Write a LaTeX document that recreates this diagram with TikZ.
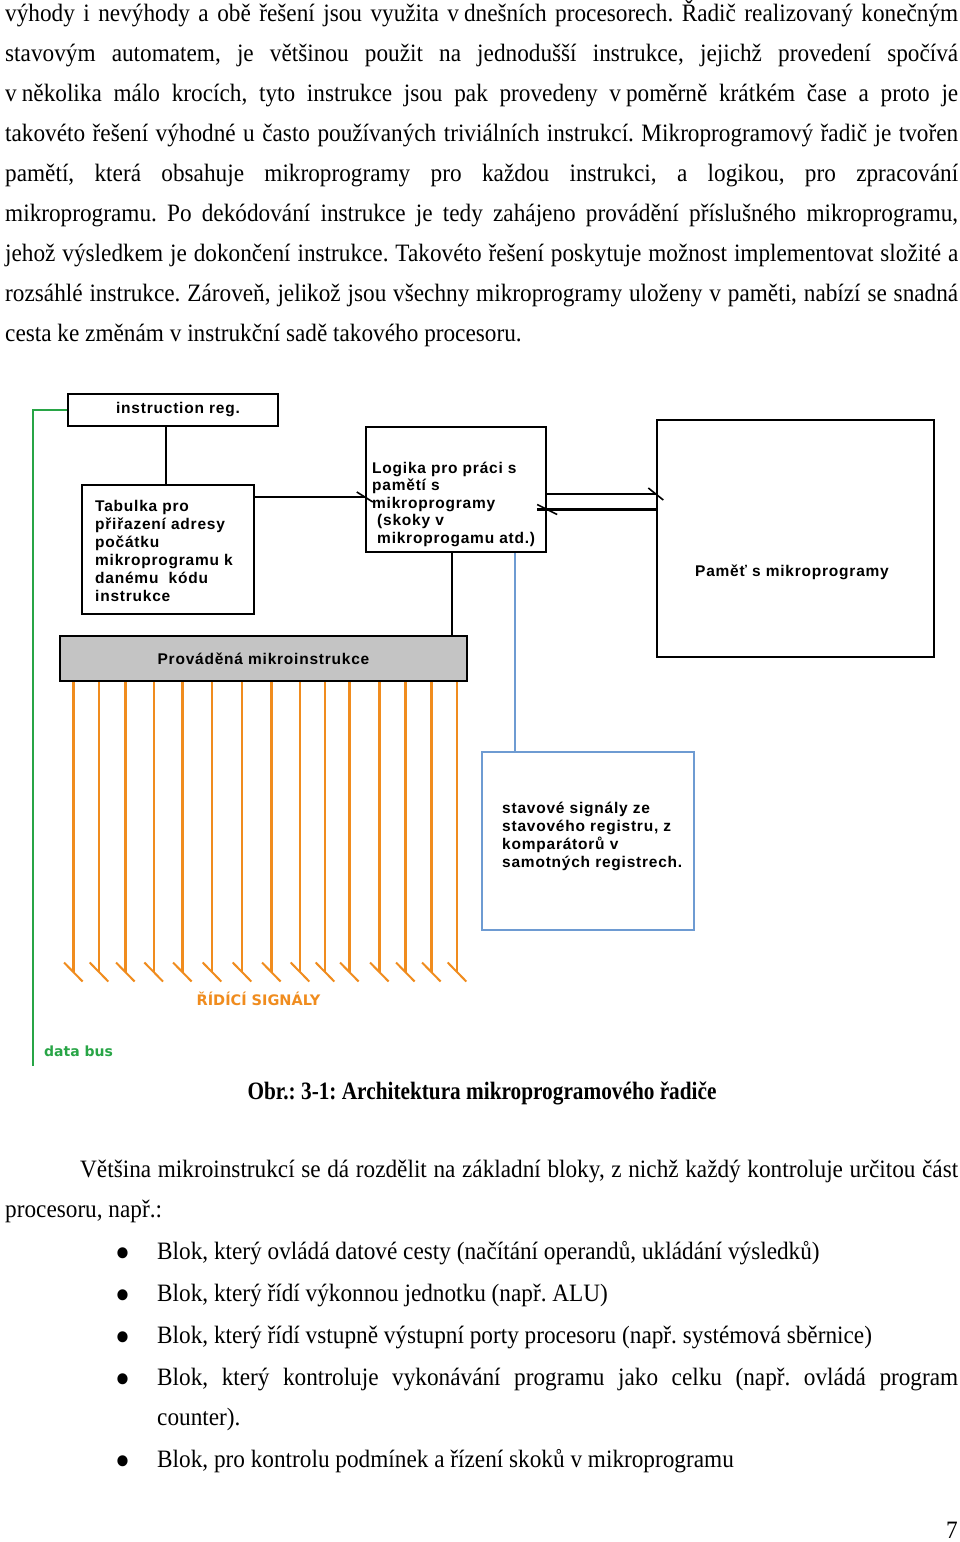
\documentclass[tikz,border=0pt]{standalone}
\usepackage{fontspec}
\setmainfont{Liberation Serif}[FakeStretch=0.93]
\newfontfamily\diafam{Liberation Sans}[LetterSpace=5]
\newfontfamily\labfam{DejaVu Sans}
\newcommand\bodyfont{\fontsize{25}{30}\selectfont\frenchspacing}
\newcommand\diafont{\diafam\bfseries\fontsize{15.5}{18}\selectfont}
\newcommand\diafontb{\diafam\bfseries\fontsize{15.5}{17.5}\selectfont}
\definecolor{orangec}{RGB}{240,140,30}
\definecolor{greenc}{RGB}{40,165,70}
\definecolor{bluec}{RGB}{110,155,210}
\definecolor{graybox}{RGB}{196,196,196}
\tikzset{
  body/.style={anchor=base west, inner sep=0pt, font=\bodyfont},
  bullet/.style={inner sep=0pt, anchor=center, font=\fontsize{46}{48}\selectfont},
  blk/.style={draw=black, line width=2.4pt, inner sep=0pt, font=\diafont},
  txt/.style={anchor=base west, inner sep=0pt, align=left, font=\diafont},
  conn/.style={draw=black, line width=2.6pt},
  tickk/.style={draw=black, line width=1.6pt},
  sig/.style={draw=orangec, line width=2.4pt},
  sigtick/.style={draw=orangec, line width=2pt},
  bus/.style={draw=greenc, line width=2.6pt},
  stat/.style={draw=bluec, line width=2pt},
}
\begin{document}
\begin{tikzpicture}[x=1pt,y=-1pt]
\useasboundingbox[fill=white] (0,0) rectangle (960,1542);
% ---- text above ----
\node[body] (t1) at (5,21) {\hbox to 953pt{výhody i nevýhody a obě řešení jsou využita v\kern5pt dnešních procesorech. Řadič realizovaný konečným}};
\node[body] (t2) at (5,61) {\hbox to 953pt{stavovým automatem, je většinou použit na jednodušší instrukce, jejichž provedení spočívá}};
\node[body] (t3) at (5,101) {\hbox to 953pt{v\kern5pt několika málo krocích, tyto instrukce jsou pak provedeny v\kern5pt poměrně krátkém čase a proto je}};
\node[body] (t4) at (5,141) {\hbox to 953pt{takovéto řešení výhodné u často používaných triviálních instrukcí. Mikroprogramový řadič je tvořen}};
\node[body] (t5) at (5,181) {\hbox to 953pt{pamětí, která obsahuje mikroprogramy pro každou instrukci, a logikou, pro zpracování}};
\node[body] (t6) at (5,221) {\hbox to 953pt{mikroprogramu. Po dekódování instrukce je tedy zahájeno provádění příslušného mikroprogramu,}};
\node[body] (t7) at (5,261) {\hbox to 953pt{jehož výsledkem je dokončení instrukce. Takovéto řešení poskytuje možnost implementovat složité a}};
\node[body] (t8) at (5,301) {\hbox to 953pt{rozsáhlé instrukce. Zároveň, jelikož jsou všechny mikroprogramy uloženy v paměti, nabízí se snadná}};
\node[body] (t9) at (5,341) {cesta ke změnám v instrukční sadě takového procesoru.};
% ---- diagram ----
\node[blk, minimum width=210pt, minimum height=32pt] (ir) at (173,410) {\hspace*{10pt}instruction reg.};
\node[blk, minimum width=172pt, minimum height=129pt] (tab) at (168,549.5) {};
\node[txt] (tabt) at (95,601) {Tabulka pro\\přiřazení adresy\\počátku\\mikroprogramu k\\danému\ \ kódu\\instrukce};
\node[blk, minimum width=180pt, minimum height=125pt] (log) at (456,489.5) {};
\node[txt, font=\diafontb] (logt) at (372,543) {Logika pro práci s\\pamětí s\\mikroprogramy\\\hspace*{5pt}(skoky v\\\hspace*{5pt}mikroprogamu atd.)};
\node[blk, minimum width=277pt, minimum height=237pt] (pam) at (795.5,538.5) {};
\node[inner sep=0pt, font=\diafont] (pamt) at (792,572) {Paměť s mikroprogramy};
\node[blk, fill=graybox, minimum width=407pt, minimum height=45pt] (pr) at (263.5,658.5) {Prováděná mikroinstrukce};
\node[stat, minimum width=212pt, minimum height=178pt, inner sep=0pt] (st) at (588,841) {};
\node[txt] (stt) at (502,867) {stavové signály ze\\stavového registru, z\\komparátorů v\\samotných registrech.};
% connectors
\coordinate (dbb) at (33,1066);
\draw[bus] (ir.west) -| (dbb);
\coordinate (irx) at (166,0);
\draw[conn] (irx |- ir.south) -- (irx |- tab.north);
\coordinate (tly) at (0,497);
\draw[conn] (tab.east |- tly) -- (log.west |- tly);
\draw[tickk] (log.west |- tly) +(-8,-5) -- +(8,5);
\coordinate (upy) at (0,494);
\draw[conn] (log.east |- upy) -- (pam.west |- upy);
\draw[tickk] (pam.west |- upy) +(-7.5,-6) -- +(7.5,6);
\coordinate (loy) at (0,509.5);
\coordinate (loend) at (537,509.5);
\draw[conn] (pam.west |- loy) -- (loend);
\draw[tickk] (log.east |- loy) +(-10,-5) -- +(10,5);
\coordinate (lgx) at (452,0);
\draw[conn] (lgx |- log.south) -- (lgx |- pr.north);
\coordinate (blx) at (515,0);
\draw[stat] (blx |- log.south) -- (blx |- st.north);
\foreach \x [count=\i] in {73.3,99,125.3,153.7,182.3,212,242,271.3,300,325,349.3,379.3,405.3,431.3,457} {
  \coordinate (s\i) at (\x,972);
  \draw[sig] (s\i |- pr.south) -- (s\i);
  \draw[sigtick] (s\i) +(-9.3,-9.5) -- +(9.3,9.5);
}
\node[inner sep=0pt, anchor=base, text=orangec, font=\labfam\bfseries\fontsize{14.5}{17}\selectfont] (rs) at (258.5,1005) {ŘÍDÍCÍ SIGNÁLY};
\node[inner sep=0pt, anchor=base west, text=greenc, font=\labfam\bfseries\fontsize{14}{16}\selectfont] (db) at (44,1056.5) {data bus};
% ---- caption and text below ----
\node[body, anchor=base, font=\bodyfont\bfseries] (cap) at (482,1099) {\scalebox{0.915}[1]{Obr.: 3-1: Architektura mikroprogramového řadiče}};
\node[body] (p1) at (80,1177) {\hbox to 878pt{Většina mikroinstrukcí se dá rozdělit na základní bloky, z nichž každý kontroluje určitou část}};
\node[body] (p2) at (5,1217) {procesoru, např.:};
\node[bullet] (d1) at (122.5,1258) {\textbullet};
\node[body] (b1) at (157,1259) {Blok, který ovládá datové cesty (načítání operandů, ukládání výsledků)};
\node[bullet] (d2) at (122.5,1300) {\textbullet};
\node[body] (b2) at (157,1301) {Blok, který řídí výkonnou jednotku (např. ALU)};
\node[bullet] (d3) at (122.5,1342) {\textbullet};
\node[body] (b3) at (157,1343) {Blok, který řídí vstupně výstupní porty procesoru (např. systémová sběrnice)};
\node[bullet] (d4) at (122.5,1384) {\textbullet};
\node[body] (b4) at (157,1385) {\hbox to 801pt{Blok, který kontroluje vykonávání programu jako celku (např. ovládá program}};
\node[body] (b4b) at (157,1425) {counter).};
\node[bullet] (d5) at (122.5,1466) {\textbullet};
\node[body] (b5) at (157,1467) {Blok, pro kontrolu podmínek a řízení skoků v mikroprogramu};
\node[body, anchor=base east] (pg) at (958,1538) {7};
\end{tikzpicture}
\end{document}
